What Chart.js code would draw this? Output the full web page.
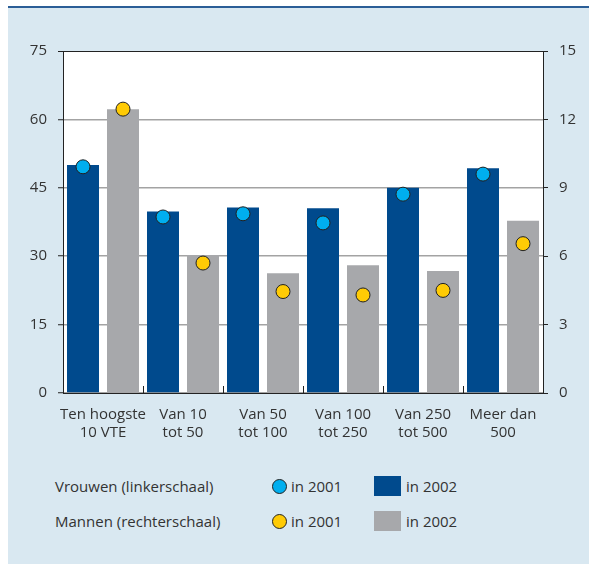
<!DOCTYPE html>
<html>
<head>
<meta charset="utf-8">
<script src="https://cdn.jsdelivr.net/npm/chart.js@4"></script>
<style>
  body { margin: 0; background: #fff; font-family: "Open Sans", sans-serif; }
  #panel { position: absolute; left: 8px; top: 6px; width: 581px; height: 556px;
           background: #d9e8f1; border-top: 2px solid #2b5e97; }
  #wrap { position: absolute; left: 0; top: 0; width: 589px; height: 450px; }
  .lg { position: absolute; font-size: 15px; color: #333; line-height: 20px; white-space: nowrap; }
  .dot { position: absolute; width: 13px; height: 13px; border-radius: 50%; border: 1px solid #222; }
  .sq { position: absolute; width: 27px; height: 20px; }
</style>
</head>
<body>
<div id="panel"></div>
<div id="wrap"><canvas id="chart"></canvas></div>
<div id="legend"></div>
<script>
// categories (two-line labels)
const categories = [
  ["Ten hoogste", "10 VTE"],
  ["Van 10", "tot 50"],
  ["Van 50", "tot 100"],
  ["Van 100", "tot 250"],
  ["Van 250", "tot 500"],
  ["Meer dan", "500"]
];

// Vrouwen (left scale)
const vrouwen2002 = [50.0, 39.8, 40.7, 40.5, 45.0, 49.3];
const vrouwen2001 = [49.6, 38.6, 39.3, 37.3, 43.6, 48.0];

// Mannen (right scale)
const mannen2002 = [12.45, 6.05, 5.25, 5.6, 5.35, 7.55];
const mannen2001 = [12.45, 5.7, 4.45, 4.3, 4.5, 6.55];

const leftMax = 75, leftStep = 15;
const rightMax = 15, rightStep = 3;

const seriesNames = ["Vrouwen (linkerschaal)", "Mannen (rechterschaal)"];
const yearLabels = ["in 2001", "in 2002"];

const colors = {
  vBar: "#004a8d",
  mBar: "#a7a8ab",
  vDot: "#00aeef",
  mDot: "#ffcb05"
};

const FONT = { family: "'Open Sans', sans-serif", size: 15 };
const TXT = "#333";

// dots sit on the centre of their bar: left bar at i-0.25, right bar at i+0.25
const dotsV = vrouwen2001.map((v, i) => ({ x: i - 0.25, y: v }));
const dotsM = mannen2001.map((v, i) => ({ x: i + 0.25, y: v }));

// white plot background + small boundary ticks on the category axis
const plotDeco = {
  id: "plotDeco",
  beforeDraw(chart) {
    const { ctx, chartArea: a } = chart;
    ctx.save();
    ctx.fillStyle = "#fff";
    ctx.fillRect(a.left, a.top, a.right - a.left, a.bottom - a.top);
    ctx.restore();
  },
  afterDatasetsDraw(chart) {
    const { ctx, chartArea: a, scales } = chart;
    const x = scales.x;
    const n = categories.length;
    const w = (a.right - a.left) / n;
    ctx.save();
    ctx.strokeStyle = "#222";
    ctx.lineWidth = 1;
    for (let i = 1; i < n; i++) {
      const px = Math.round(x.getPixelForValue(i) - w / 2) + 0.5;
      ctx.beginPath();
      ctx.moveTo(px, a.bottom);
      ctx.lineTo(px, a.bottom - 7);
      ctx.stroke();
    }
    ctx.restore();
  }
};

new Chart(document.getElementById("chart"), {
  data: {
    labels: categories,
    datasets: [
      {
        type: "scatter", label: "Vrouwen in 2001", data: dotsV,
        xAxisID: "xp", yAxisID: "yL", order: 0,
        backgroundColor: colors.vDot, borderColor: "#222", borderWidth: 1,
        pointRadius: 7, pointHoverRadius: 7
      },
      {
        type: "scatter", label: "Mannen in 2001", data: dotsM,
        xAxisID: "xp", yAxisID: "yR", order: 0,
        backgroundColor: colors.mDot, borderColor: "#222", borderWidth: 1,
        pointRadius: 7, pointHoverRadius: 7
      },
      // categoryPercentage 2: this mixed setup halves the bar group width, so double it back
      {
        type: "bar", label: "Vrouwen in 2002", data: vrouwen2002,
        xAxisID: "x", yAxisID: "yL", order: 1,
        backgroundColor: colors.vBar,
        categoryPercentage: 2, barPercentage: 0.8
      },
      {
        type: "bar", label: "Mannen in 2002", data: mannen2002,
        xAxisID: "x", yAxisID: "yR", order: 1,
        backgroundColor: colors.mBar,
        categoryPercentage: 2, barPercentage: 0.8
      }
    ]
  },
  options: {
    responsive: true,
    maintainAspectRatio: false,
    animation: false,
    layout: { padding: { left: 8, right: 11, top: 51, bottom: 0 } },
    plugins: { legend: { display: false }, tooltip: { enabled: false } },
    scales: {
      x: {
        type: "category",
        offset: true,
        grid: { display: false },
        border: { display: true, color: "#222", width: 1 },
        ticks: { color: TXT, font: { ...FONT, lineHeight: 1.25 }, padding: 4, maxRotation: 0, autoSkip: false },
        afterFit(s) { s.height = 57; }
      },
      xp: {
        type: "linear", display: false,
        min: -0.5, max: categories.length - 0.5
      },
      yL: {
        position: "left",
        min: 0, max: leftMax,
        ticks: { stepSize: leftStep, color: TXT, font: FONT, padding: 11 },
        grid: {
          color: c => c.tick.value === leftMax ? "#222" : "#a3a3a3",
          lineWidth: c => c.tick.value === leftMax ? 1 : 1.5,
          tickColor: "#222", tickLength: 5, tickWidth: 1
        },
        border: { display: true, color: "#222", width: 1 },
        afterFit(s) { s.width = 55; }
      },
      yR: {
        position: "right",
        min: 0, max: rightMax,
        ticks: { stepSize: rightStep, color: TXT, font: FONT, padding: 11 },
        grid: { drawOnChartArea: false, tickColor: "#222", tickLength: 5, tickWidth: 1 },
        border: { display: true, color: "#222", width: 1 },
        afterFit(s) { s.width = 35; }
      }
    }
  },
  plugins: [plotDeco]
});

// legend: two rows (Vrouwen / Mannen), each with a 2001 dot and a 2002 bar swatch
const legend = document.getElementById("legend");
const rowTops = [476, 511];
const dotFill = [colors.vDot, colors.mDot];
const barFill = [colors.vBar, colors.mBar];
seriesNames.forEach((name, r) => {
  const top = rowTops[r];
  legend.insertAdjacentHTML("beforeend",
    `<div class="lg" style="left:55px;top:${top}px">${name}</div>` +
    `<div class="dot" style="left:272px;top:${top + 3}px;background:${dotFill[r]}"></div>` +
    `<div class="lg" style="left:291px;top:${top}px">${yearLabels[0]}</div>` +
    `<div class="sq" style="left:374px;top:${top}px;background:${barFill[r]}"></div>` +
    `<div class="lg" style="left:406px;top:${top}px">${yearLabels[1]}</div>`);
});
</script>
</body>
</html>
